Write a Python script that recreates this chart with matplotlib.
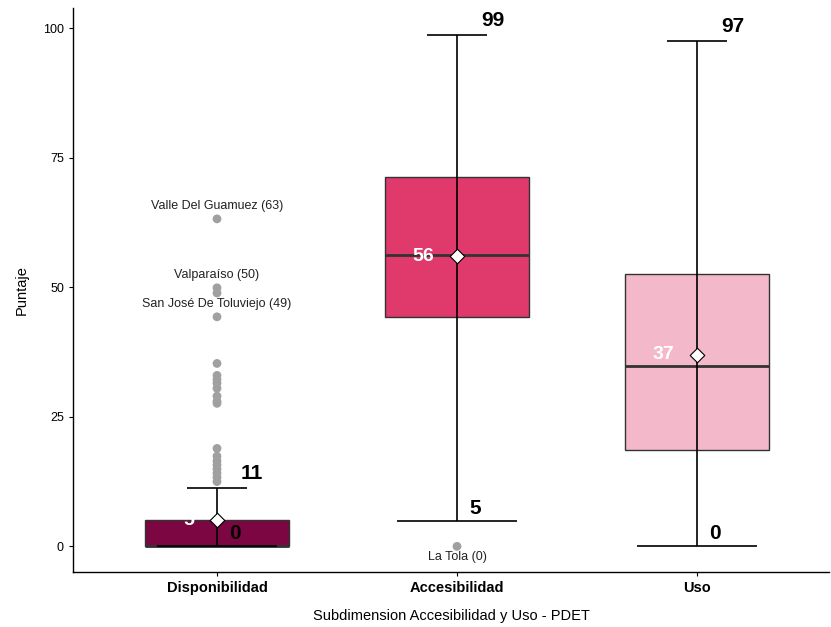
import matplotlib
matplotlib.use("Agg")
import matplotlib.pyplot as plt

plt.rcParams['font.family'] = ['Liberation Sans', 'DejaVu Sans']

# data
categories = ["Disponibilidad", "Accesibilidad", "Uso"]
q1 = [0.0, 44.3, 18.5]
median = [0.0, 56.3, 34.9]
q3 = [5.0, 71.2, 52.6]
means = [5.0, 56.0, 37.0]
whisk_low = [0.0, 4.8, 0.0]
whisk_high = [11.2, 98.6, 97.5]
mean_labels = ["5", "56", "37"]
low_labels = ["0", "5", "0"]
high_labels = ["11", "99", "97"]
box_colors = ["#7B0641", "#E0396B", "#F4B8CB"]

# outliers (category index, value)
out_cat = [0] * 20 + [1]
out_val = [63.2, 49.9, 48.9, 44.3,
           35.3, 33.0, 32.2, 31.5, 30.5, 29.0, 28.0, 27.6,
           18.9, 17.4, 16.5, 15.7, 14.9, 14.1, 13.3, 12.5,
           0.0]
# labelled outliers (category index, value, text)
lab_cat = [0, 0, 0, 1]
lab_val = [63.2, 49.9, 44.3, 0.0]
lab_txt = ["Valle Del Guamuez (63)", "Valparaíso (50)",
           "San José De Toluviejo (49)", "La Tola (0)"]

fig = plt.figure(figsize=(8.31, 6.27), dpi=100)
ax = fig.add_axes([73 / 831, 1 - 572 / 627, (829 - 73) / 831, (572 - 8) / 627])

xs = [1, 2, 3]
w = 0.6

# outliers
ax.scatter([xs[c] for c in out_cat], out_val, s=40, color="#A0A0A0",
           edgecolors="none", zorder=2)

# boxes
for i in range(3):
    ax.bar(xs[i], q3[i] - q1[i], bottom=q1[i], width=w, color=box_colors[i],
           edgecolor="#333333", linewidth=1.0, zorder=3)
    ax.hlines(median[i], xs[i] - w / 2, xs[i] + w / 2, color="#333333",
              linewidth=2.0, zorder=4)
    # whisker line through the box
    ax.vlines(xs[i], whisk_low[i], whisk_high[i], color="black",
              linewidth=1.2, zorder=5)
    ax.hlines(whisk_high[i], xs[i] - 0.125, xs[i] + 0.125, color="black",
              linewidth=1.2, zorder=5)
    ax.hlines(whisk_low[i], xs[i] - 0.25, xs[i] + 0.25, color="black",
              linewidth=1.2, zorder=5)
    # mean diamond
    ax.scatter(xs[i], means[i], marker="D", s=55, color="white",
               edgecolors="black", linewidths=0.8, zorder=6)
    ax.text(xs[i] - 0.095, means[i], mean_labels[i], color="white",
            fontsize=14, fontweight="bold", ha="right", va="center", zorder=7)
    ax.text(xs[i] + 0.1, whisk_high[i] + 1.0, high_labels[i], color="black",
            fontsize=15, fontweight="bold", ha="left", va="bottom", zorder=7)
    ax.text(xs[i] + 0.05, whisk_low[i] + 0.6, low_labels[i], color="black",
            fontsize=15, fontweight="bold", ha="left", va="bottom", zorder=7)

# outlier labels
for c, v, t in zip(lab_cat, lab_val, lab_txt):
    if v > 0:
        ax.text(xs[c], v + 1.3, t, fontsize=9, ha="center", va="bottom",
                color="#222222")
    else:
        ax.text(xs[c], v - 0.9, t, fontsize=9, ha="center", va="top",
                color="#222222")

ax.set_xlim(0.4, 3.55)
ax.set_ylim(-4.95, 103.9)
ax.set_xticks(xs)
ax.set_xticklabels(categories, fontweight="bold", fontsize=10.5)
ax.set_yticks([0, 25, 50, 75, 100])
ax.tick_params(axis="y", labelsize=9, length=3)
ax.tick_params(axis="x", length=3)
for s in ["top", "right"]:
    ax.spines[s].set_visible(False)
ax.spines["left"].set_linewidth(1.0)
ax.spines["bottom"].set_linewidth(1.0)
ax.set_ylabel("Puntaje", fontsize=10.5, labelpad=10)
ax.set_xlabel("Subdimension Accesibilidad y Uso - PDET", fontsize=10.5, labelpad=10)

fig.savefig("out.png", dpi=100)
